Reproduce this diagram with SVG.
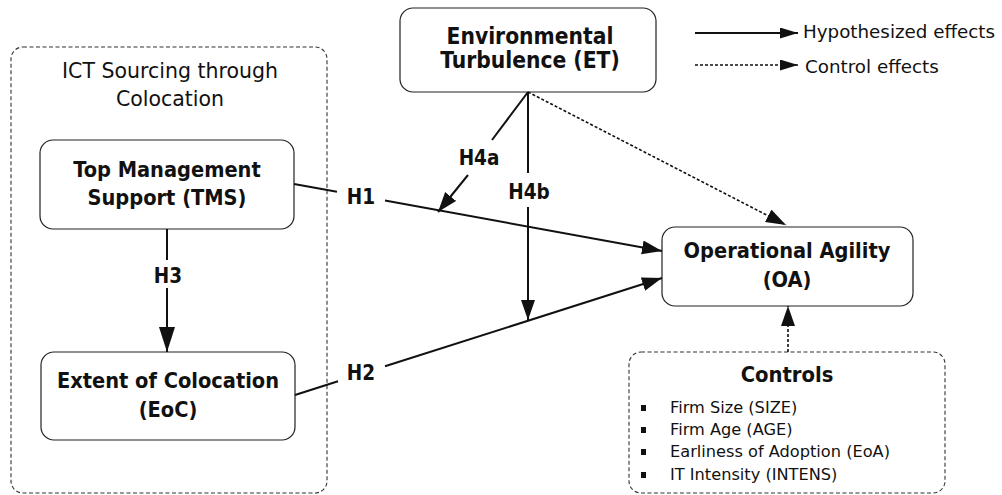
<svg xmlns="http://www.w3.org/2000/svg" width="1002" height="495" viewBox="0 0 1002 495">
<defs>
<style>
.box{fill:#fff;stroke:#222;stroke-width:1.2}
.dbox{fill:none;stroke:#333;stroke-width:1.1;stroke-dasharray:4 2.5}
.t{font-family:"DejaVu Sans",sans-serif;fill:#111;text-anchor:middle}
.b{font-family:"DejaVu Sans Condensed","DejaVu Sans",sans-serif;font-weight:bold;font-size:21.6px}
.r{font-size:20.5px}
.lab{font-family:"DejaVu Sans Condensed","DejaVu Sans",sans-serif;font-weight:bold;font-size:20.5px;fill:#111;text-anchor:middle}
.leg{font-family:"DejaVu Sans",sans-serif;font-size:18.3px;fill:#111}
.item{font-family:"DejaVu Sans",sans-serif;font-size:16.2px;fill:#111}
.ln{fill:none;stroke:#111;stroke-width:2}
.dot{fill:none;stroke:#111;stroke-width:1.6;stroke-dasharray:3 2}
</style>
<marker id="ah" markerUnits="userSpaceOnUse" markerWidth="22" markerHeight="16" refX="20" refY="7" orient="auto">
<path d="M0,0 L20,7 L0,14 Z" fill="#111"/>
</marker>
<marker id="ahl" markerUnits="userSpaceOnUse" markerWidth="28" markerHeight="18" refX="25" refY="8" orient="auto">
<path d="M0,0 L25,8 L0,16 Z" fill="#111"/>
</marker>
<marker id="ahs" markerUnits="userSpaceOnUse" markerWidth="20" markerHeight="12" refX="18" refY="5.5" orient="auto">
<path d="M0,0 L18,5.5 L0,11 Z" fill="#111"/>
</marker>
</defs>
<g id="ict-group">
<rect class="dbox" x="11" y="47" width="316" height="446" rx="12"/>
<text class="t r" x="170" y="78">ICT Sourcing through</text>
<text class="t r" x="170" y="106">Colocation</text>
</g>
<g id="tms">
<rect class="box" x="40" y="140" width="254" height="89" rx="13"/>
<text class="t b" x="167" y="177">Top Management</text>
<text class="t b" x="167" y="205">Support (TMS)</text>
</g>
<g id="eoc">
<rect class="box" x="41" y="352" width="254" height="88" rx="13"/>
<text class="t b" x="168" y="388">Extent of Colocation</text>
<text class="t b" x="168" y="417">(EoC)</text>
</g>
<g id="et">
<rect class="box" x="400" y="8" width="256" height="84" rx="13"/>
<text class="t b" x="530" y="44" style="font-size:22.6px">Environmental</text>
<text class="t b" x="530" y="68" style="font-size:22.6px">Turbulence (ET)</text>
</g>
<g id="oa">
<rect class="box" x="662" y="227" width="251" height="79" rx="13"/>
<text class="t b" x="787" y="258">Operational Agility</text>
<text class="t b" x="787" y="287">(OA)</text>
</g>
<g id="controls">
<rect class="dbox" x="629" y="352" width="316" height="141" rx="12"/>
<text class="t b" x="787" y="382" style="font-size:21.8px">Controls</text>
<rect x="641" y="405" width="5" height="6" fill="#111"/>
<rect x="641" y="427" width="5" height="6" fill="#111"/>
<rect x="641" y="449" width="5" height="6" fill="#111"/>
<rect x="641" y="472" width="5" height="6" fill="#111"/>
<text class="item" x="670" y="413">Firm Size (SIZE)</text>
<text class="item" x="670" y="435">Firm Age (AGE)</text>
<text class="item" x="670" y="457">Earliness of Adoption (EoA)</text>
<text class="item" x="670" y="480">IT Intensity (INTENS)</text>
</g>
<g id="legend">
<line class="ln" x1="695" y1="33" x2="798" y2="33" marker-end="url(#ahs)"/>
<text class="leg" x="803" y="38">Hypothesized effects</text>
<line class="dot" x1="695" y1="65" x2="798" y2="65" marker-end="url(#ahs)"/>
<text class="leg" x="805" y="73">Control effects</text>
</g>
<g id="connectors">
<line class="ln" x1="294" y1="184" x2="337" y2="191.8"/>
<line class="ln" x1="385" y1="200.6" x2="662" y2="251" marker-end="url(#ah)"/>
<text class="lab" x="361" y="204">H1</text>
<line class="ln" x1="295" y1="395" x2="338" y2="381.3"/>
<line class="ln" x1="385" y1="366.3" x2="662" y2="278" marker-end="url(#ah)"/>
<text class="lab" x="361" y="380">H2</text>
<line class="ln" x1="167" y1="229" x2="167" y2="260"/>
<line class="ln" x1="167" y1="288" x2="167" y2="352" marker-end="url(#ahl)"/>
<text class="lab" x="168" y="283">H3</text>
<line class="ln" x1="528" y1="92" x2="492" y2="140"/>
<line class="ln" x1="468" y1="175" x2="438" y2="212" marker-end="url(#ah)"/>
<text class="lab" x="479" y="165">H4a</text>
<line class="ln" x1="528" y1="92" x2="528" y2="173"/>
<line class="ln" x1="528" y1="207" x2="528" y2="320" marker-end="url(#ah)"/>
<text class="lab" x="529" y="199">H4b</text>
<line class="dot" x1="528" y1="92" x2="786" y2="225" marker-end="url(#ah)"/>
<line class="dot" x1="788" y1="352" x2="788" y2="306" marker-end="url(#ah)"/>
</g>
</svg>
